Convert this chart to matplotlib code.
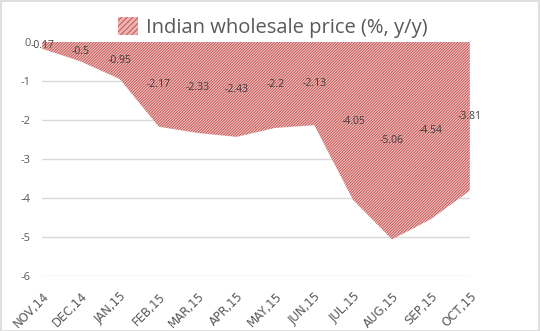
import matplotlib.pyplot as plt
from matplotlib.patches import Patch

plt.rcParams['hatch.linewidth'] = 0.75

# Data
months = ["NOV,14", "DEC,14", "JAN,15", "FEB,15", "MAR,15", "APR,15",
          "MAY,15", "JUN,15", "JUL,15", "AUG,15", "SEP,15", "OCT,15"]
wpi = [-0.17, -0.5, -0.95, -2.17, -2.33, -2.43, -2.2, -2.13, -4.05, -5.06, -4.54, -3.81]
yticks = [0, -1, -2, -3, -4, -5, -6]

fig = plt.figure(figsize=(5.4, 3.31), dpi=100)
ax = fig.add_axes([0.078, 0.166, 0.792, 0.707])

x = list(range(len(months)))
fill_col = "#f4cfce"
hatch_col = "#c55a57"
hatch = "/" * 12
ax.fill_between(x, 0, wpi, facecolor=fill_col, edgecolor=hatch_col,
                hatch=hatch, linewidth=0, zorder=2)

# Excel places area data labels halfway down the area
for xi, v in zip(x, wpi):
    ax.text(xi, v / 2, f"{v:g}", ha="center", va="center", fontsize=7.5,
            color="#404040", family="Open Sans", zorder=3)

ax.set_xlim(0, len(months) - 1)
ax.set_ylim(-6, 0)
ax.set_yticks(yticks)
ax.set_yticklabels([str(t) for t in yticks], fontsize=8, color="#595959", family="Open Sans")
ax.set_xticks(x)
ax.set_xticklabels(months, rotation=45, ha="right", rotation_mode="anchor",
                   fontsize=8.5, color="#595959", family="DejaVu Sans")
ax.tick_params(length=0, axis="both")
ax.tick_params(axis="x", pad=10)
ax.tick_params(axis="y", pad=8)
ax.grid(axis="y", color="#d9d9d9", linewidth=1, zorder=0)
ax.set_axisbelow(True)
for s in ax.spines.values():
    s.set_visible(False)

handle = Patch(facecolor="#eeb4b2", edgecolor=hatch_col, hatch="/" * 6, linewidth=0)
fig.legend([handle], ["Indian wholesale price (%, y/y)"], loc="center",
           bbox_to_anchor=(0.505, 0.918), frameon=False, handlelength=1.0,
           handleheight=1.0, handletextpad=0.4,
           prop={"family": "Open Sans", "size": 14.5}, labelcolor="#595959")

fig.patches.append(plt.Rectangle((0.001, 0.001), 0.997, 0.996, transform=fig.transFigure,
                                 fill=False, edgecolor="#d9d9d9", linewidth=1.2))

fig.savefig("out.png", dpi=100)
